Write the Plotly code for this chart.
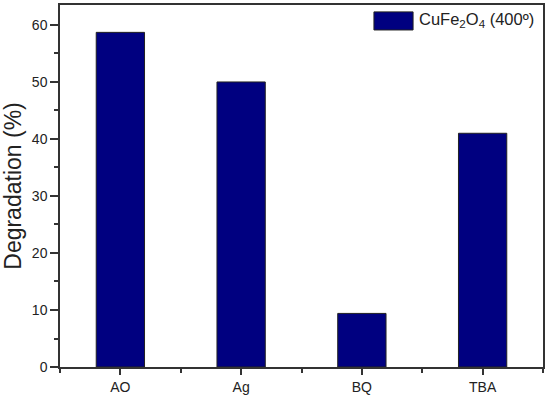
import plotly.graph_objects as go

categories = ["AO", "Ag", "BQ", "TBA"]
degradation = [58.7, 50.0, 9.4, 41.0]
series_name = "CuFe<sub>2</sub>O<sub>4</sub> (400º)"

bar_color = "#000080"
font = "Liberation Sans, Arial, sans-serif"

fig = go.Figure(go.Bar(
    x=list(range(len(categories))),
    y=degradation,
    width=0.4,
    marker=dict(color=bar_color, line=dict(color="#222222", width=1)),
    name=series_name,
    showlegend=False,
))

axis_common = dict(
    showline=True, linecolor="#333333", linewidth=1.5, mirror=True,
    showgrid=False, zeroline=False, ticks="outside", tickcolor="#333333",
    tickfont=dict(family=font, size=14, color="#222222"),
    automargin=False,
)

fig.update_xaxes(
    range=[-0.5, 3.5],
    tickvals=list(range(len(categories))),
    ticktext=categories,
    ticklen=6, tickwidth=1.5,
    minor=dict(tickvals=[-0.5, 0.5, 1.5, 2.5, 3.5], ticklen=4, tickwidth=1.5,
               tickcolor="#333333", ticks="outside"),
    **axis_common,
)
fig.update_yaxes(
    range=[0, 63.5],
    dtick=10, tick0=0,
    ticklen=8, tickwidth=1.5,
    minor=dict(dtick=5, ticklen=4, tickwidth=1.5, tickcolor="#333333", ticks="outside"),
    title=dict(text="Degradation (%)", font=dict(family=font, size=23, color="#222222"),
               standoff=4),
    **axis_common,
)

# legend drawn as a patch + label in the top right corner
fig.add_shape(type="rect", xref="paper", yref="paper",
              x0=0.650, x1=0.731, y0=0.931, y1=0.981,
              fillcolor=bar_color, line=dict(color="#222222", width=1))
fig.add_annotation(xref="paper", yref="paper", x=0.739, y=0.958,
                   xanchor="left", yanchor="middle", showarrow=False,
                   text=series_name,
                   font=dict(family=font, size=16.5, color="#222222"))

fig.update_layout(
    width=550, height=396,
    margin=dict(l=60, r=7, t=5, b=29),
    plot_bgcolor="white", paper_bgcolor="white",
)

# drop the browser's default body margin so the figure sits at the page corner
fig.write_html("out.html", config={"displayModeBar": False},
               post_script="document.body.style.margin='0';")
